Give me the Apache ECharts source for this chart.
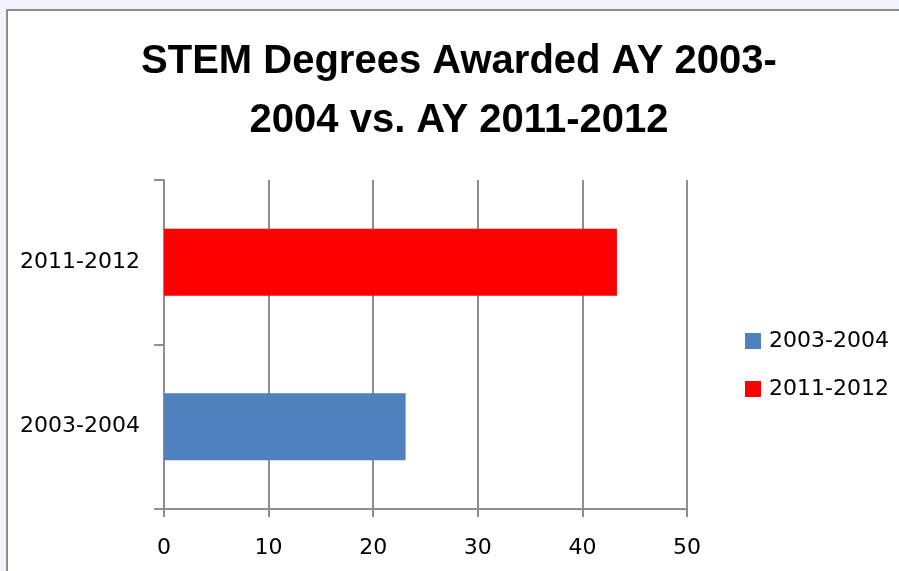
<!DOCTYPE html>
<html>
<head>
<meta charset="utf-8">
<style>
  html, body { margin: 0; padding: 0; width: 899px; height: 571px; overflow: hidden; background: #f3f3fd; }
  #frame { position: absolute; left: 6px; top: 9px; width: 920px; height: 600px; background: #ffffff; border: 2px solid #8c8c8c; }
  #chart { position: absolute; left: 0; top: 0; width: 899px; height: 571px; }
</style>
<script src="https://cdn.jsdelivr.net/npm/echarts@6/dist/echarts.min.js"></script>
</head>
<body>
<div id="frame"></div>
<div id="chart"></div>
<script>
const titleLines = ['STEM Degrees Awarded AY 2003-', '2004 vs. AY 2011-2012'];
const categories = ['2003-2004', '2011-2012'];
const seriesNames = ['2003-2004', '2011-2012'];
const seriesValues = [[23.1, null], [null, 43.3]];
const seriesColors = ['#4f81bd', '#ff0000'];
const xTicks = { min: 0, max: 50, interval: 10 };

const gridColor = '#8e8e8e';
const labelFont = 'DejaVu Sans';

const chart = echarts.init(document.getElementById('chart'), null, { renderer: 'canvas' });
chart.setOption({
  backgroundColor: 'transparent',
  animation: false,
  graphic: [{
    type: 'text',
    x: 459,
    y: 32,
    style: {
      text: titleLines.join('\n'),
      font: 'bold 40px "Liberation Sans", Arial, sans-serif',
      fill: '#000',
      lineHeight: 59,
      align: 'center',
      verticalAlign: 'top'
    }
  }],
  grid: { left: 164, right: 212, top: 180, bottom: 62, containLabel: false },
  legend: {
    orient: 'vertical',
    left: 745,
    top: 330,
    padding: 0,
    itemWidth: 16,
    itemHeight: 16,
    itemGap: 26,
    icon: 'rect',
    data: seriesNames,
    textStyle: { fontFamily: labelFont, fontSize: 22, color: '#000', padding: [2, 0, 0, 3] }
  },
  xAxis: {
    type: 'value',
    min: xTicks.min,
    max: xTicks.max,
    interval: xTicks.interval,
    axisLine: { show: true, lineStyle: { color: gridColor, width: 2 } },
    axisTick: { show: true, length: 8, lineStyle: { color: gridColor, width: 2 } },
    axisLabel: { fontFamily: labelFont, fontSize: 22, color: '#000', margin: 28 },
    splitLine: { show: true, lineStyle: { color: gridColor, width: 2 } }
  },
  yAxis: {
    type: 'category',
    data: categories,
    axisLine: { show: true, lineStyle: { color: gridColor, width: 2 } },
    axisTick: { show: true, length: 10, lineStyle: { color: gridColor, width: 2 } },
    axisLabel: { fontFamily: labelFont, fontSize: 22, color: '#000', margin: 24, padding: [5, 0, 0, 0] }
  },
  series: seriesNames.map((name, i) => ({
    name: name,
    type: 'bar',
    stack: 'total',
    data: seriesValues[i],
    barWidth: 67,
    itemStyle: { color: seriesColors[i] }
  }))
});
</script>
</body>
</html>
